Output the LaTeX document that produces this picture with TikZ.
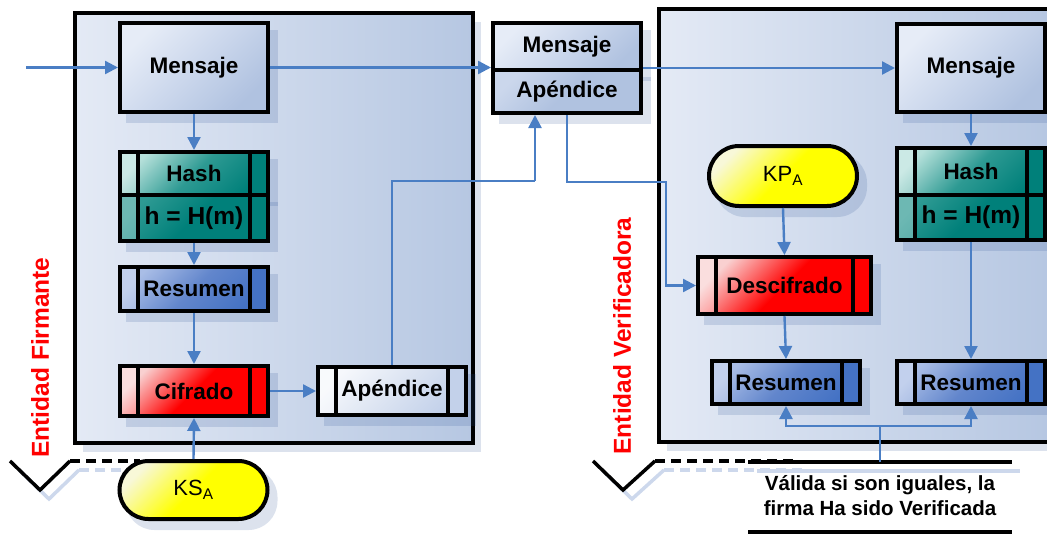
\documentclass[tikz,border=0pt]{standalone}
\usepackage{fontspec}
\setmainfont{Liberation Sans}
\usetikzlibrary{arrows.meta,calc}
\definecolor{cblue}{HTML}{4A7EC4}
\definecolor{panelL}{HTML}{E4EAF5}
\definecolor{panelR}{HTML}{B6C7E2}
\definecolor{msgL}{HTML}{E6ECF7}
\definecolor{msgM}{HTML}{CBD7EC}
\definecolor{msgD}{HTML}{B0C2E0}
\definecolor{tealL}{HTML}{B5E0DA}
\definecolor{tealM}{HTML}{2E9A93}
\definecolor{tealD}{HTML}{00807A}
\definecolor{blueL}{HTML}{A9BDE6}
\definecolor{blueM}{HTML}{6286CC}
\definecolor{blueD}{HTML}{4472C4}
\definecolor{redL}{HTML}{F9D0D0}
\definecolor{redD}{HTML}{FF0000}
\definecolor{apL}{HTML}{F6F8FC}
\definecolor{apM}{HTML}{DCE4F2}
\definecolor{apD}{HTML}{C3D1EA}
\definecolor{yelL}{HTML}{F8F8D8}
\definecolor{yelD}{HTML}{FFFF00}
\definecolor{shadowc}{HTML}{2F5597}
\definecolor{shadl}{HTML}{CDD8EC}
\newcommand\boxfont{\fontsize{22.5}{26}\selectfont\bfseries}
\newcommand\hfont{\fontsize{24.5}{28}\selectfont\bfseries}
\newcommand\keyfont{\fontsize{22}{26}\selectfont}
\newcommand\labfont{\fontsize{24.5}{28}\selectfont\bfseries}
\newcommand\notefont{\fontsize{20.5}{25}\selectfont\bfseries}
\pgfdeclarelayer{panel}
\pgfdeclarelayer{shadow}
\pgfsetlayers{panel,shadow,main}
\tikzset{
  conn/.style={draw=cblue, line width=2.4pt, -{Triangle[length=13pt,width=13pt]}},
  line/.style={draw=cblue, line width=2.4pt},
  box/.style={draw=black, line width=4pt, inner sep=0pt, minimum width=148pt, font=\boxfont},
  plain/.style n args={3}{box, top color=#1, bottom color=#3, middle color=#2, shading angle=45},
  proc/.style n args={4}{box, top color=#1, bottom color=#3, middle color=#2, shading angle=45,
    path picture={
      \fill[#4] ([xshift=-18pt]path picture bounding box.north east) rectangle (path picture bounding box.south east);
      \fill[white, opacity=.3] (path picture bounding box.north west) rectangle ([xshift=18pt]path picture bounding box.south west);
      \draw[line width=4pt] ([xshift=18pt]path picture bounding box.north west) -- ([xshift=18pt]path picture bounding box.south west);
      \draw[line width=4pt] ([xshift=-18pt]path picture bounding box.north east) -- ([xshift=-18pt]path picture bounding box.south east);}},
  shad/.style={fill=shadowc, fill opacity=0.17},
  vline/.style={line width=3.5pt, black},
  dline/.style={line width=3.5pt, black, dash pattern=on 10pt off 6pt},
}
\begin{document}
\begin{tikzpicture}[x=1pt,y=-1pt]
\useasboundingbox (0,0) rectangle (1047,536);

% panels
\begin{pgfonlayer}{panel}
  \fill[shad] (83,22) rectangle (481,452);
  \fill[shad] (667,18) rectangle (1047,451);
  \draw[line width=4pt, left color=panelL, right color=panelR] (75,13) rectangle (473,443);
  \fill[left color=panelL, right color=panelR] (659,9) rectangle (1047,442);
  \draw[line width=4pt] (1047,9) -- (659,9) -- (659,442) -- (1047,442);
\end{pgfonlayer}

% swimlane markers
\draw[line width=3.5pt, shadl] (19,470) -- (49,499) -- (79,470);
\draw[line width=3.5pt, shadl, dash pattern=on 10pt off 6pt] (79,470) -- (149,470);
\draw[vline] (10,461) -- (40,490) -- (70,461);
\draw[dline] (70,461) -- (140,461);

\draw[line width=3.5pt, shadl] (602,470) -- (632,499) -- (664,470);
\draw[line width=3.5pt, shadl, dash pattern=on 10pt off 6pt] (664,470) -- (802,470);
\draw[line width=3.5pt, shadl] (757,471) -- (1020,471);
\draw[vline] (593,461) -- (623,490) -- (655,461);
\draw[dline] (655,461) -- (793,461);
\draw[vline] (748,462) -- (1012,462);
\draw[vline] (748,532) -- (1012,532);

% lane labels
\node[rotate=90, font=\labfont, text=red, inner sep=0pt] (lf) at (40,357.5) {Entidad Firmante};
\node[rotate=90, font=\labfont, text=red, inner sep=0pt] (lv) at (622,336) {Entidad Verificadora};

% left column
\node[plain={msgL}{msgM}{msgD}, minimum height=89pt] (mL) at (194,67.5) {Mensaje};
\node[proc={tealL}{tealM}{tealD}{tealD}, minimum height=43pt] (hL1) at (194,173.5) {Hash};
\node[proc={tealM}{tealD}{tealD}{tealD}, minimum height=46pt, font=\hfont] (hL2) at (194,218) {h = H(m)};
\node[proc={blueL}{blueM}{blueD}{blueD}, minimum height=44pt] (rL) at (194,289) {Resumen};
\node[proc={redL}{redD}{redD}{redD}, minimum height=50pt] (cL) at (194,391) {Cifrado};
\node[proc={apL}{apM}{apD}{apD}, minimum height=48pt] (aL) at (392,391) {Apéndice};
\node[box, top color=yelL, bottom color=yelD, middle color=yelD, shading angle=45,
      rounded corners=29pt, minimum height=58pt, font=\keyfont] (ks) at (193.5,490) {KS\textsubscript{A}};

% middle
\node[plain={msgL}{msgM}{msgD}, minimum height=47pt] (mM1) at (567,46.5) {Mensaje};
\node[plain={msgM}{msgD}{msgD}, minimum height=43pt] (mM2) at (567,91.5) {Apéndice};

% right side
\node[plain={msgL}{msgM}{msgD}, minimum height=88pt] (mR) at (971,68) {Mensaje};
\node[proc={tealL}{tealM}{tealD}{tealD}, minimum height=47pt] (hR1) at (971,171.5) {Hash};
\node[proc={tealM}{tealD}{tealD}{tealD}, minimum height=45pt, font=\hfont] (hR2) at (971,217.5) {h = H(m)};
\node[box, top color=yelL, bottom color=yelD, middle color=yelD, shading angle=45,
      rounded corners=30pt, minimum height=60pt, font=\keyfont] (kp) at (783,176) {KP\textsubscript{A}};
\node[proc={redL}{redD}{redD}{redD}, minimum width=173pt, minimum height=57pt] (dR) at (784.5,285.5) {Descifrado};
\node[proc={blueL}{blueM}{blueD}{blueD}, minimum height=43pt] (rV1) at (786,382.5) {Resumen};
\node[proc={blueL}{blueM}{blueD}{blueD}, minimum height=43pt] (rV2) at (971,382.5) {Resumen};

\node[font=\notefont, align=center, inner sep=0pt] (note) at (880,495.5) {Válida si son iguales, la\\firma Ha sido Verificada};

% shadows
\begin{pgfonlayer}{shadow}
  \begin{scope}
  \clip (0,0) rectangle (1047,536);
  \foreach \n in {mL,hL1,hL2,rL,cL,aL,mM1,mM2,mR,hR1,hR2,dR,rV1,rV2}
    \fill[shad] ([shift={(8pt,-9pt)}]\n.north west) rectangle ([shift={(8pt,-9pt)}]\n.south east);
  \fill[shad, rounded corners=29pt] ([shift={(8pt,-9pt)}]ks.north west) rectangle ([shift={(8pt,-9pt)}]ks.south east);
  \fill[shad, rounded corners=30pt] ([shift={(8pt,-9pt)}]kp.north west) rectangle ([shift={(8pt,-9pt)}]kp.south east);
  \end{scope}
\end{pgfonlayer}

% connectors
\coordinate (in) at (26,67.5);
\coordinate (c1) at (535,181);
\coordinate (c2) at (666,182);
\coordinate (j0) at (880,462);
\coordinate (j1) at (880,426);
\draw[conn] (in) -- (mL.west);
\draw[conn] (mL.south) -- (hL1.north);
\draw[conn] (hL2.south) -- (rL.north);
\draw[conn] (rL.south) -- (cL.north);
\draw[conn] (ks.north) -- (cL.south);
\draw[conn] (cL.east) -- (aL.west);
\draw[line] (aL.north) |- (c1);
\draw[conn] (c1) -- (c1 |- mM2.south);
\draw[conn] (mL.east) -- (mL.east -| mM1.west);
\draw[conn] (mR.west -| mM1.east) -- (mR.west);
\draw[conn] (mM2.south) |- (c2) |- (dR.west);
\draw[conn] (kp.south) -- (dR.north);
\draw[conn] (dR.south) -- (rV1.north);
\draw[conn] (mR.south) -- (hR1.north);
\draw[conn] (hR2.south) -- (rV2.north);
\draw[line] (j0) -- (j1);
\draw[conn] (j1) -| (rV1.south);
\draw[conn] (j1) -| (rV2.south);
\end{tikzpicture}
\end{document}
